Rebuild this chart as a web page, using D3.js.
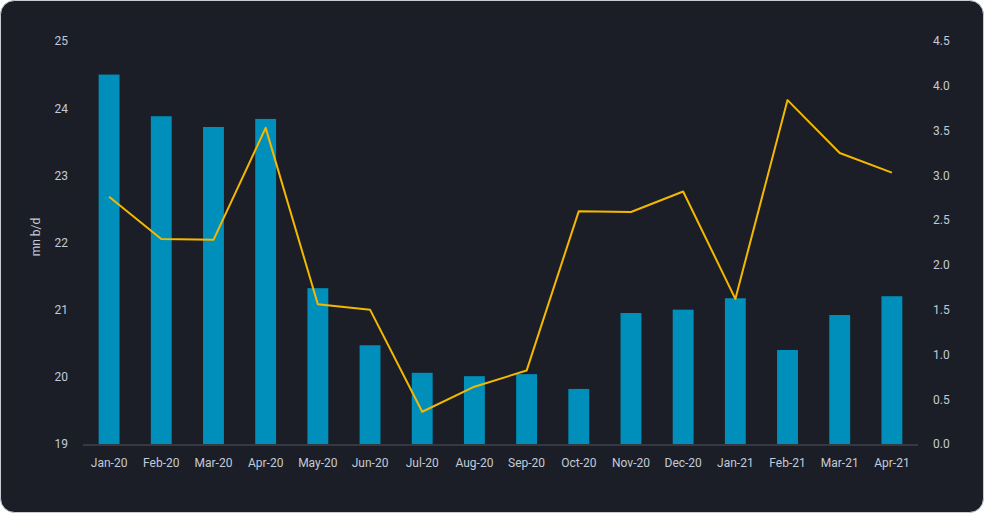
<!DOCTYPE html>
<html>
<head>
<meta charset="utf-8">
<script src="https://cdn.jsdelivr.net/npm/d3@7"></script>
<style>
    html, body { margin: 0; padding: 0; background: #fff; }
    svg { display: block; font-family: Roboto, "Noto Sans", sans-serif; }
</style>
</head>
<body>
<div id="draw"></div>
<script>
(function () {
    "use strict";

    // chart data
    var months = ['Jan-20', 'Feb-20', 'Mar-20', 'Apr-20', 'May-20', 'Jun-20', 'Jul-20', 'Aug-20',
        'Sep-20', 'Oct-20', 'Nov-20', 'Dec-20', 'Jan-21', 'Feb-21', 'Mar-21', 'Apr-21'];
    var barValues = [24.5, 23.88, 23.72, 23.84, 21.32, 20.47, 20.06, 20.01,
        20.04, 19.82, 20.95, 21.0, 21.17, 20.4, 20.92, 21.2];
    var lineValues = [2.76, 2.29, 2.28, 3.53, 1.56, 1.5, 0.36, 0.64,
        0.82, 2.6, 2.59, 2.82, 1.62, 3.84, 3.25, 3.03];
    var leftTicks = [19, 20, 21, 22, 23, 24, 25];
    var rightTicks = [0, 0.5, 1, 1.5, 2, 2.5, 3, 3.5, 4, 4.5];

    var width = 984,
        height = 513,
        textCol = '#c3cbd8';

    var svg = d3.select('#draw').append('svg')
        .attr('width', width)
        .attr('height', height);

    // card background
    svg.append('rect')
        .attr('x', 0.5)
        .attr('y', 0.5)
        .attr('width', width - 1)
        .attr('height', height - 1)
        .attr('rx', 14)
        .attr('fill', '#1b1e26')
        .attr('stroke', '#c9cbd0');

    var x = d3.scaleBand().domain(months).range([83, 918]).paddingInner(0.6).paddingOuter(0.3);
    var yL = d3.scaleLinear().domain([19, 25]).range([444, 41]);
    var yR = d3.scaleLinear().domain([0, 4.5]).range([444, 41]);

    // bars
    svg.append('g').selectAll('rect')
        .data(barValues)
        .enter().append('rect')
        .attr('x', function (d, i) { return x(months[i]); })
        .attr('y', function (d) { return yL(d); })
        .attr('width', x.bandwidth())
        .attr('height', function (d) { return yL(19) - yL(d); })
        .attr('fill', '#008fba');

    // x axis line
    svg.append('line')
        .attr('x1', 83).attr('x2', 918)
        .attr('y1', 445).attr('y2', 445)
        .attr('stroke', '#50545e')
        .attr('stroke-width', 1);

    // line series
    var line = d3.line()
        .x(function (d, i) { return x(months[i]) + x.bandwidth() / 2; })
        .y(function (d) { return yR(d); });

    svg.append('path')
        .datum(lineValues)
        .attr('d', line)
        .attr('fill', 'none')
        .attr('stroke', '#f4b800')
        .attr('stroke-width', 2)
        .attr('stroke-linejoin', 'round');

    // axes
    var axL = svg.append('g')
        .attr('transform', 'translate(72,0)')
        .call(d3.axisLeft(yL).tickValues(leftTicks).tickSize(0).tickPadding(4).tickFormat(d3.format('d')));
    var axR = svg.append('g')
        .attr('transform', 'translate(929,0)')
        .call(d3.axisRight(yR).tickValues(rightTicks).tickSize(0).tickPadding(4).tickFormat(d3.format('.1f')));
    var axB = svg.append('g')
        .attr('transform', 'translate(0,445)')
        .call(d3.axisBottom(x).tickSize(0).tickPadding(13));

    [axL, axR, axB].forEach(function (ax) {
        ax.select('.domain').remove();
        ax.selectAll('text')
            .attr('fill', textCol)
            .style('font-size', '12px')
            .style('font-family', 'Roboto, "Noto Sans", sans-serif');
    });

    // axis title
    svg.append('text')
        .attr('transform', 'translate(40,237) rotate(-90)')
        .attr('text-anchor', 'middle')
        .attr('fill', textCol)
        .style('font-size', '12px')
        .text('mn b/d');
}());
</script>
</body>
</html>
